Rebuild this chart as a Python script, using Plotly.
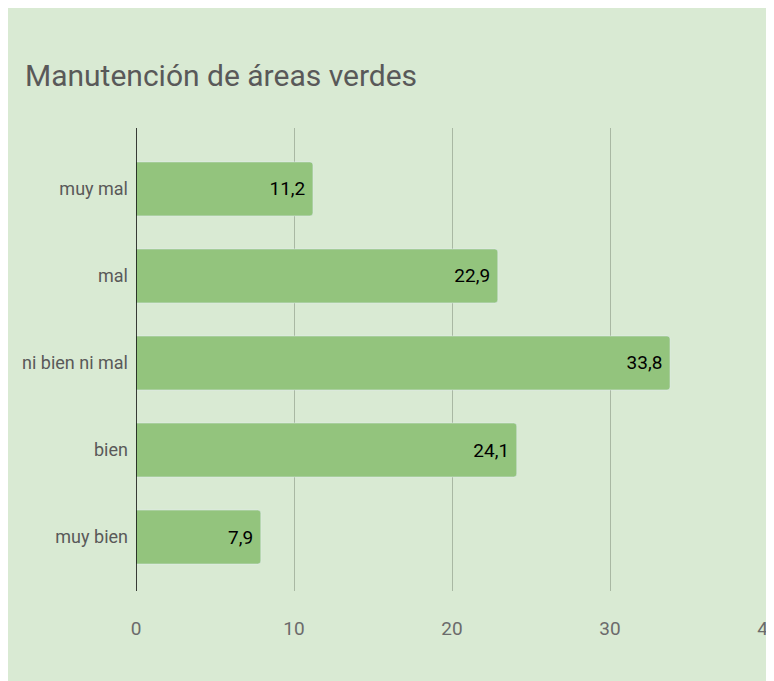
import plotly.graph_objects as go

# Data
categorias = ["muy mal", "mal", "ni bien ni mal", "bien", "muy bien"]
valores = [11.2, 22.9, 33.8, 24.1, 7.9]
ticks_x = [0, 10, 20, 30, 40]

etiquetas = [f"{v:.1f}".replace(".", ",") + "\u00a0" for v in valores]

FONT = "Roboto, sans-serif"
# the page adds an 8px body margin, so the figure is 8px smaller than the window
W, H = 766, 673
ML, MR, MT, MB = 128, 6, 120, 90

fig = go.Figure(go.Bar(
    x=valores, y=categorias, orientation="h",
    marker=dict(color="#93c47d", cornerradius=3),
    width=0.62,
    text=etiquetas, textposition="inside", insidetextanchor="end",
    textfont=dict(family=FONT, size=19, color="#000000"),
    hoverinfo="x+y",
))

fig.update_layout(
    width=W, height=H,
    margin=dict(l=ML, r=MR, t=MT, b=MB, autoexpand=False),
    paper_bgcolor="#d9ead3", plot_bgcolor="#d9ead3",
    title=dict(text="Manutención de áreas verdes", x=17 / W, xanchor="left",
               y=1 - 67 / H, yanchor="middle",
               font=dict(family=FONT, size=30, color="#595959")),
    showlegend=False,
)
fig.update_xaxes(range=[0, 40], tickvals=ticks_x, showgrid=True, gridcolor="#a9b8a3",
                 gridwidth=1, zeroline=False, showline=False, ticks="",
                 automargin=False, ticklabelstandoff=24, ticklabeloverflow="allow",
                 tickfont=dict(family=FONT, size=19, color="#6b6b6b"))
fig.update_yaxes(autorange=False, range=[4.62, -0.70], showgrid=False, ticks="",
                 showline=False, zeroline=False, ticklabelstandoff=7,
                 automargin=False,
                 tickfont=dict(family=FONT, size=18, color="#595959"))
fig.add_vline(x=0, line=dict(color="#000000", width=1.5))

fig.write_html("out.html")
